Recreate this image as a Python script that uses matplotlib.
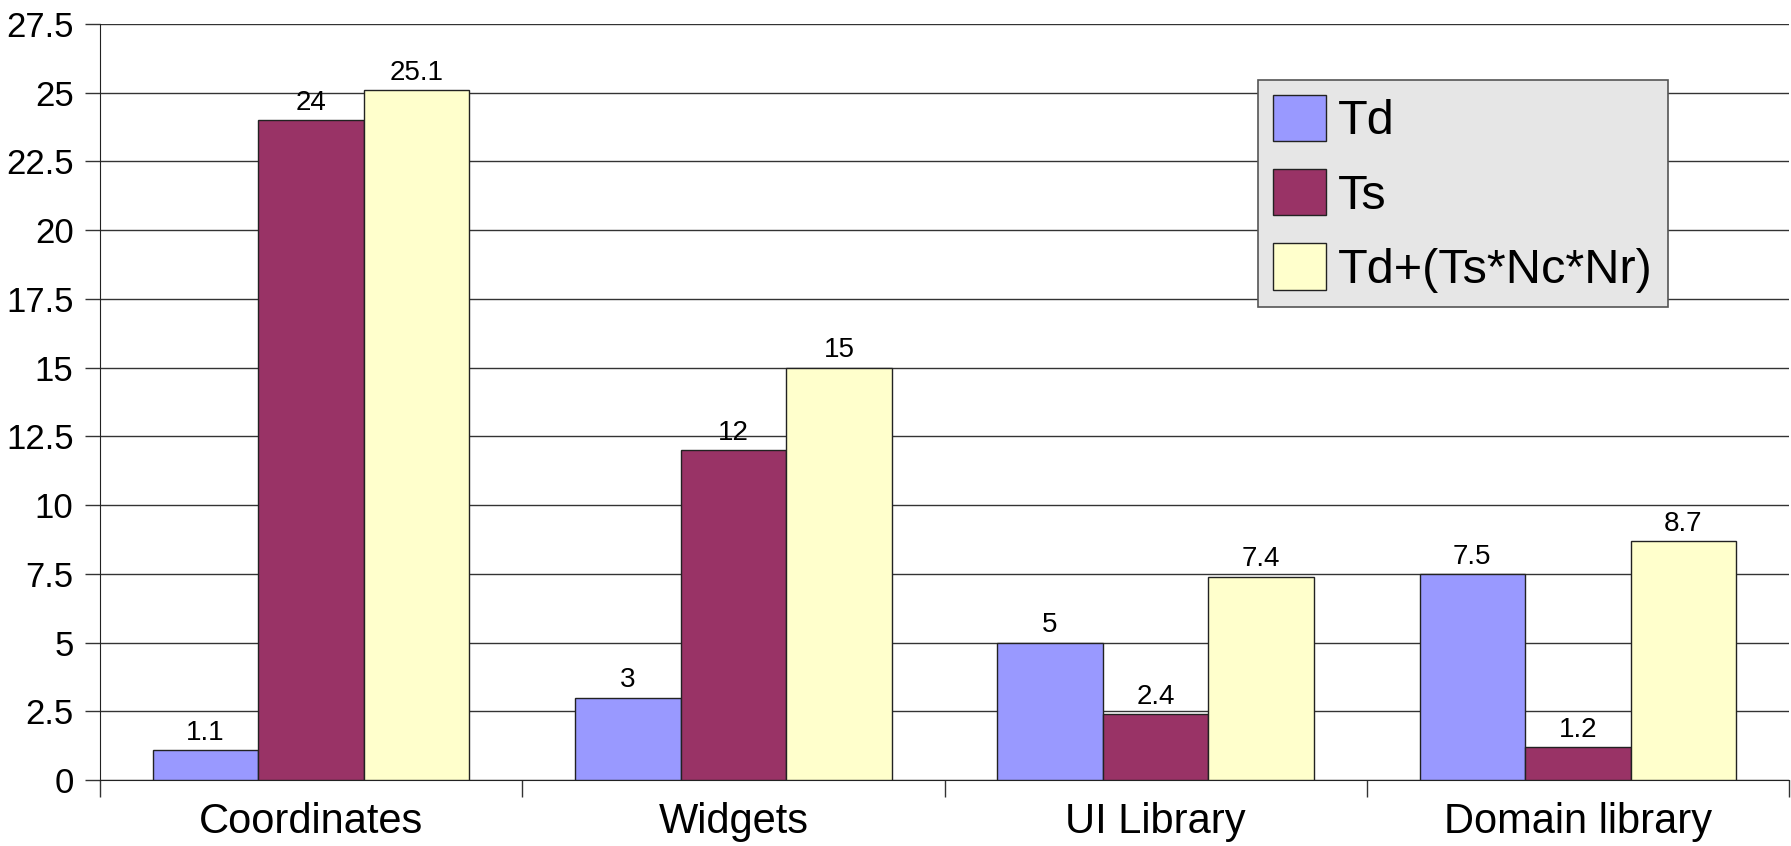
import numpy as np
import matplotlib.pyplot as plt

plt.rcParams['font.family'] = ['Liberation Sans', 'DejaVu Sans']

categories = ["Coordinates", "Widgets", "UI Library", "Domain library"]
series_names = ["Td", "Ts", "Td+(Ts*Nc*Nr)"]
td = [1.1, 3, 5, 7.5]
ts = [24, 12, 2.4, 1.2]
total = [25.1, 15, 7.4, 8.7]
colors = ["#9999ff", "#993366", "#ffffcc"]
y_ticks = [0, 2.5, 5, 7.5, 10, 12.5, 15, 17.5, 20, 22.5, 25, 27.5]

fig = plt.figure(figsize=(17.91, 8.46), dpi=100)
ax = fig.add_axes([100 / 1791, 66 / 846, 1689 / 1791, 756 / 846])

x = np.arange(len(categories))
width = 0.25
for i, (vals, name, col) in enumerate(zip([td, ts, total], series_names, colors)):
    bars = ax.bar(x + (i - 1) * width, vals, width, color=col, edgecolor="#222222",
                  linewidth=1, label=name, zorder=3)
    ax.bar_label(bars, labels=[f"{v:g}" for v in vals], padding=3, fontsize=20, zorder=4)

ax.set_xlim(-0.5, len(categories) - 0.5)
ax.set_ylim(0, 27.5)
ax.set_yticks(y_ticks)
ax.set_yticklabels([f"{v:g}" for v in y_ticks], fontsize=25)
ax.yaxis.grid(True, color="#333333", linewidth=1, zorder=0)

# category names centred under groups, tick marks on the group boundaries
ax.set_xticks(x)
ax.set_xticklabels(categories, fontsize=30)
ax.tick_params(axis="x", length=0, pad=16)
ax.set_xticks(np.arange(len(categories) + 1) - 0.5, minor=True)
ax.tick_params(axis="x", which="minor", length=12, width=1, color="#333333")
ax.tick_params(axis="y", length=11, width=1, color="#333333", pad=8)

for side in ["top", "right"]:
    ax.spines[side].set_visible(False)
ax.spines["left"].set_color("#222222")
ax.spines["bottom"].set_color("#222222")

leg = ax.legend(loc="upper left", bbox_to_anchor=(1258 / 1791, 1 - 80 / 846),
                bbox_transform=fig.transFigure, borderaxespad=0, fontsize=35,
                frameon=True, fancybox=False, handlelength=1.1, handleheight=1.1,
                handletextpad=0.25, borderpad=0.3, labelspacing=0.5)
leg.get_frame().set_facecolor("#e6e6e6")
leg.get_frame().set_edgecolor("#555555")
leg.get_frame().set_linewidth(1.2)
leg.get_frame().set_alpha(1)

fig.savefig("out.png", dpi=100)
